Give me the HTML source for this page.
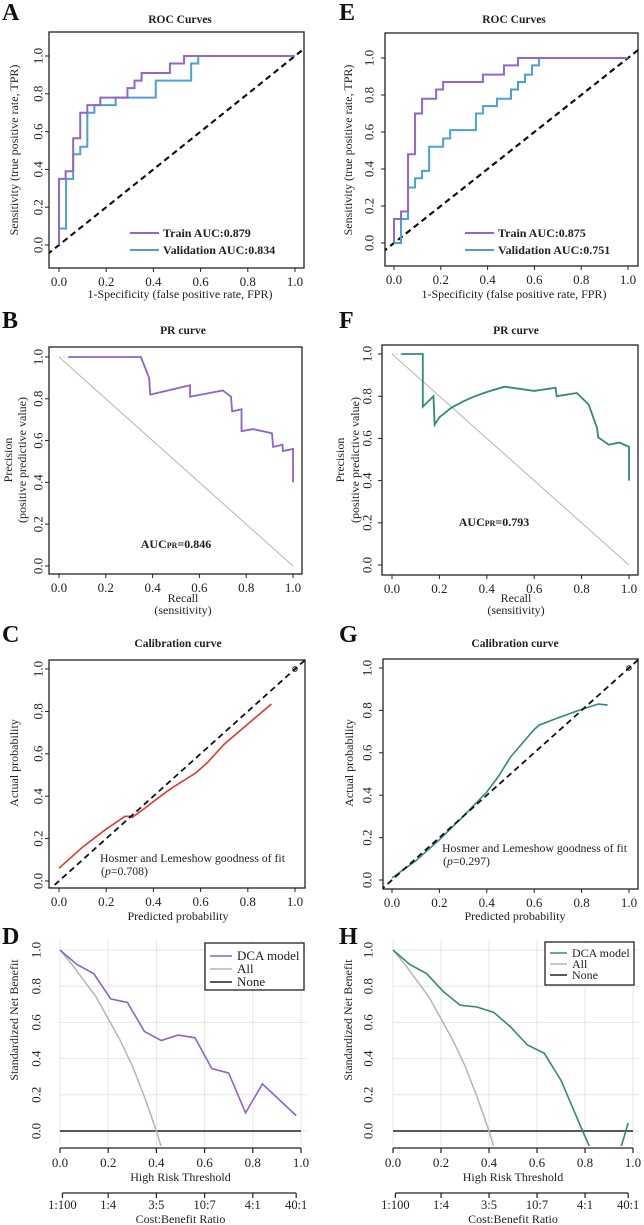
<!DOCTYPE html>
<html><head><meta charset="utf-8">
<style>
html,body{margin:0;padding:0;background:#fff;}
svg{display:block;font-family:"Liberation Serif",serif;}
</style></head>
<body>
<svg id="fig" width="644" height="1225" viewBox="0 0 644 1225" xmlns="http://www.w3.org/2000/svg"></svg>
<script>
// ---------- DATA ----------
const rocATrainFpr=[0,.028,.06,.09,.12,.175,.29,.32,.35,.47,.53,1];
const rocATrainTpr=[.35,.39,.565,.70,.74,.78,.83,.87,.91,.96,1,1];
const rocAValFpr=[0,.03,.06,.09,.12,.15,.24,.41,.56,.59,1];
const rocAValTpr=[.087,.35,.48,.52,.70,.74,.78,.87,.96,1,1];
const rocETrainFpr=[0,.03,.06,.09,.12,.18,.21,.38,.47,.53,1];
const rocETrainTpr=[.13,.17,.48,.70,.78,.83,.87,.91,.96,1,1];
const rocEValFpr=[0,.03,.06,.09,.12,.15,.21,.24,.35,.38,.44,.5,.53,.56,.59,.62,1];
const rocEValTpr=[0,.13,.30,.35,.39,.52,.565,.61,.70,.74,.78,.83,.87,.91,.96,1,1];
const prBRecall=[.04,.35,.385,.39,.56,.56,.70,.735,.74,.78,.78,.83,.91,.915,.955,.957,1,1];
const prBPrec=[1,1,.90,.82,.865,.81,.84,.81,.74,.75,.645,.655,.635,.57,.58,.55,.56,.40];
const prFRecall=[.04,.13,.13,.175,.18,.2,.25,.3,.35,.4,.475,.6,.69,.695,.78,.83,.865,.87,.915,.96,1,1];
const prFPrec=[1,1,.75,.80,.665,.70,.745,.775,.80,.82,.845,.825,.84,.80,.815,.76,.65,.605,.57,.58,.56,.40];
const calCPred=[0,.1,.2,.28,.3,.31,.36,.43,.48,.58,.63,.7,.9];
const calCAct=[.06,.16,.245,.305,.305,.30,.34,.40,.44,.51,.56,.645,.835];
const calGPred=[0,.1,.2,.3,.4,.45,.5,.6,.62,.7,.8,.87,.91];
const calGAct=[.01,.09,.19,.30,.415,.49,.58,.71,.73,.765,.805,.83,.825];
const dcaDThr=[0,.07,.14,.21,.28,.35,.42,.49,.56,.63,.70,.77,.84,.98];
const dcaDNb=[1,.92,.87,.73,.71,.55,.50,.53,.515,.345,.32,.10,.26,.085];
const dcaHThr=[0,.07,.14,.21,.28,.35,.42,.49,.56,.63,.70,.79,.82,null,.95,.98];
const dcaHNb=[1,.92,.87,.77,.695,.685,.655,.575,.475,.43,.28,0,-.09,null,-.09,.045];
const dcaAllThr=[0,.05,.1,.15,.2,.25,.3,.35,.4,.425];
const dcaAllNb=[1,.92,.83,.74,.62,.50,.36,.19,0,-.11];
const ticks=[0,0.2,0.4,0.6,0.8,1.0];
const tickLabels=["0.0","0.2","0.4","0.6","0.8","1.0"];
const costLabels=["1:100","1:4","3:5","10:7","4:1","40:1"];
const costPos=[0.01,0.2,0.4,0.6,0.8,0.98];

// ---------- HELPERS ----------
const NS="http://www.w3.org/2000/svg";
const svg=document.getElementById('fig');
const TFS=13;
function mk(tag,attrs,parent){const e=document.createElementNS(NS,tag);for(const k in attrs)e.setAttribute(k,attrs[k]);(parent||svg).appendChild(e);return e;}
function txt(s,attrs,parent){const e=mk('text',attrs,parent);e.textContent=s;return e;}
function sx(p,v){return p.x0+(p.x1-p.x0)*v;}
function sy(p,v){return p.y0-(p.y0-p.y1)*v;}
let clipId=0;
function clip(p,b){const id='c'+(clipId++);const cp=mk('clipPath',{id:id});mk('rect',{x:b[0],y:b[1],width:b[2]-b[0],height:b[3]-b[1]},cp);return 'url(#'+id+')';}

function boxAxes(p,name){
  const g=mk('g',{});
  
  
  const r=mk('rect',{x:p.box[0],y:p.box[1],width:p.box[2]-p.box[0],height:p.box[3]-p.box[1],fill:'none',stroke:'#222','stroke-width':1.3},g);
  
  
  ticks.forEach((t,i)=>{
    const x=sx(p,t);
    mk('line',{x1:x,x2:x,y1:p.box[3],y2:p.box[3]+4,stroke:'#222'},g);
    const xl=txt(tickLabels[i],{x:x,y:p.box[3]+18,'font-size':TFS,'text-anchor':'middle',fill:'#222'},g);
    
    
    const y=sy(p,t);
    mk('line',{x1:p.box[0],x2:p.box[0]-4,y1:y,y2:y,stroke:'#222'},g);
    const yl=txt(tickLabels[i],{x:p.ytx,y:y,'font-size':TFS,'text-anchor':'middle',dy:'.35em',transform:'rotate(-90 '+p.ytx+' '+y+')',fill:'#222'},g);
    
    
  });
}
function letter(s,x,y){const e=txt(s,{x:x,y:y,'font-size':24,'font-weight':'bold',fill:'#111'});}
function title(s,x,y){const e=txt(s,{x:x,y:y,'font-size':11.5,'font-weight':'bold','text-anchor':'middle',fill:'#222'});}
function ytitle(s,x,y,nm){const e=txt(s,{x:x,y:y,'font-size':12,'text-anchor':'middle',dy:'.35em',transform:'rotate(-90 '+x+' '+y+')',fill:'#222'});}
function xtitle(s,x,y,nm){const e=txt(s,{x:x,y:y,'font-size':12,'text-anchor':'middle',fill:'#222'});}
function stairPath(p,f,t){let d='M'+sx(p,0)+' '+sy(p,0);for(let i=0;i<f.length;i++){d+=' L'+sx(p,f[i])+' '+sy(p,i?t[i-1]:0)+' L'+sx(p,f[i])+' '+sy(p,t[i]);}return d;}
function polyPath(p,xs,ys){let d='',pen=false;for(let i=0;i<xs.length;i++){if(xs[i]===null){pen=false;continue;}d+=(pen?' L':' M')+sx(p,xs[i])+' '+sy(p,ys[i]);pen=true;}return d;}
function diag(p,cl,w){const e=mk('line',{x1:sx(p,-0.05),y1:sy(p,-0.05),x2:sx(p,1.05),y2:sy(p,1.05),stroke:'#111','stroke-width':w,'stroke-dasharray':'6,4','clip-path':cl});}

// ---------- ROC ----------
function roc(p,L,tf,tt,vf,vt,ta,va){
  letter(L,p.lx,20);
  title('ROC Curves',p.tx,23);
  boxAxes(p,'roc-'+L.toLowerCase());
  const cl=clip(p,p.box);
  diag(p,cl,2.2);
  const v=mk('path',{d:stairPath(p,vf,vt),fill:'none',stroke:'#4ba0d9','stroke-width':2,'clip-path':cl});
  
  const t=mk('path',{d:stairPath(p,tf,tt),fill:'none',stroke:'#9465cf','stroke-width':2,'clip-path':cl});
  
  const lg=mk('g',{});
  mk('line',{x1:p.lgx,x2:p.lgx+29,y1:233,y2:233,stroke:'#9465cf','stroke-width':2},lg);
  mk('line',{x1:p.lgx,x2:p.lgx+29,y1:250,y2:250,stroke:'#4ba0d9','stroke-width':2},lg);
  const a=txt('Train AUC:'+ta,{x:p.lgx+33,y:237,'font-size':12,'font-weight':'bold',fill:'#222'},lg);
  const b=txt('Validation AUC:'+va,{x:p.lgx+33,y:254,'font-size':12,'font-weight':'bold',fill:'#222'},lg);
  ytitle('Sensitivity (true positive rate, TPR)',p.ytt,150);
  xtitle('1-Specificity (false positive rate, FPR)',p.tx,298);
}
roc({box:[49,32,304,268],x0:59,x1:295,y0:245,y1:56,ytx:38,lx:2,tx:180,ytt:14,lgx:130},'A',rocATrainFpr,rocATrainTpr,rocAValFpr,rocAValTpr,'0.879','0.834');
roc({box:[385,33,638,266],x0:394,x1:628,y0:243,y1:58,ytx:369,lx:339,tx:514,ytt:348,lgx:465},'E',rocETrainFpr,rocETrainTpr,rocEValFpr,rocEValTpr,'0.875','0.751');

// ---------- PR ----------
function pr(p,L,rx,ry,col,auc){
  letter(L,p.lx,328);
  title('PR curve',p.tx,334);
  boxAxes(p,'pr-'+L.toLowerCase());
  const cl=clip(p,p.box);
  const g=mk('line',{x1:sx(p,0),y1:sy(p,1),x2:sx(p,1),y2:sy(p,0),stroke:'#bbb','stroke-width':1.1});
  const s=mk('line',{x1:sx(p,0),y1:sy(p,1),x2:sx(p,rx[0]),y2:sy(p,1),stroke:'#f2b8b0','stroke-width':1,'stroke-dasharray':'2,2'});
  const l=mk('path',{d:polyPath(p,rx,ry),fill:'none',stroke:col,'stroke-width':1.8,'clip-path':cl});
  const a=txt('',{x:p.ax,y:p.ay,'font-size':12,'font-weight':'bold','text-anchor':'middle',fill:'#222'});
  
  a.innerHTML='AUC<tspan font-size="8">PR</tspan>='+auc;
  ytitle('Precision',p.yt1,460,'y-axis-title-line1');
  ytitle('(positive predictive value)',p.yt2,460,'y-axis-title-line2');
  xtitle('Recall',p.tx,602,'x-axis-title-line1');
  xtitle('(sensitivity)',p.tx,614,'x-axis-title-line2');
}
pr({box:[49,347,302,574],x0:59,x1:293,y0:566,y1:357,ytx:38,lx:2,tx:183,ax:176,ay:548,yt1:8,yt2:22},'B',prBRecall,prBPrec,'#8e62d0','0.846');
pr({box:[382,345,638,575],x0:392,x1:629,y0:565,y1:354,ytx:367,lx:339,tx:516,ax:494,ay:526,yt1:340,yt2:355},'F',prFRecall,prFPrec,'#2e8b80','0.793');

// ---------- CALIBRATION ----------
function cal(p,L,px,py,col,pv){
  letter(L,p.lx,642);
  title('Calibration curve',p.tx,647);
  boxAxes(p,'cal-'+L.toLowerCase());
  const cl=clip(p,p.box);
  const l=mk('path',{d:polyPath(p,px,py),fill:'none',stroke:col,'stroke-width':1.6,'clip-path':cl});
  diag(p,cl,1.8);
  const c=mk('circle',{cx:sx(p,1),cy:sy(p,1),r:2.2,fill:'none',stroke:'#111','stroke-width':1});
  const h=txt('Hosmer and Lemeshow goodness of fit',{x:p.hx,y:p.hy,'font-size':11.8,fill:'#222',textLength:185,lengthAdjust:'spacingAndGlyphs'});
  const q=txt('',{x:p.hx+1,y:p.hy+13,'font-size':11.8,fill:'#222'});
  q.innerHTML='(<tspan font-style="italic">p</tspan>='+pv+')';
  ytitle('Actual probability',p.ytt,763);
  xtitle('Predicted probability',p.tx,920);
}
cal({box:[49,660,305,888],x0:59,x1:295,y0:881,y1:669,ytx:38,lx:2,tx:178,hx:100,hy:862,ytt:14},'C',calCPred,calCAct,'#e8382c','0.708');
cal({box:[383,659,638,889],x0:392,x1:629,y0:880,y1:668,ytx:367,lx:339,tx:515,hx:442,hy:852,ytt:349},'G',calGPred,calGAct,'#2e8b80','0.297');

// ---------- DCA ----------
function dca(p,L,tx,ty,col){
  letter(L,p.lx,944);
  const cl=clip(p,[p.x0-3,935,p.x1+6,1146]);
  const grid=mk('g',{stroke:'#e6e6e6','stroke-width':1});
  ticks.forEach((t,i)=>{
    mk('line',{x1:p.x0,x2:p.x1+6,y1:sy(p,t),y2:sy(p,t)},grid);
    mk('line',{x1:sx(p,t),x2:sx(p,t),y1:940,y2:1145},grid);
    const yl=txt(tickLabels[i],{x:p.ytx,y:sy(p,t),'font-size':TFS,'text-anchor':'middle',dy:'.35em',transform:'rotate(-90 '+p.ytx+' '+sy(p,t)+')',fill:'#222'});
    
  });
  const n=mk('line',{x1:p.x0,x2:p.x1,y1:sy(p,0),y2:sy(p,0),stroke:'#222','stroke-width':1.5});
  const a=mk('path',{d:polyPath(p,dcaAllThr,dcaAllNb),fill:'none',stroke:'#b5b5b5','stroke-width':1.5,'clip-path':cl});
  const m=mk('path',{d:polyPath(p,tx,ty),fill:'none',stroke:col,'stroke-width':1.6,'clip-path':cl});
  const ax=mk('g',{stroke:'#222','stroke-width':1.2});
  mk('line',{x1:p.x0,x2:p.x1,y1:1148,y2:1148},ax);
  ticks.forEach((t,i)=>{
    mk('line',{x1:sx(p,t),x2:sx(p,t),y1:1148,y2:1153},ax);
    const l=txt(tickLabels[i],{x:sx(p,t),y:1167,'font-size':TFS,'text-anchor':'middle',fill:'#222',stroke:'none'});
    
  });
  xtitle('High Risk Threshold',(p.x0+p.x1)/2,1181);
  const cx=mk('g',{stroke:'#222','stroke-width':1.2});
  mk('line',{x1:sx(p,costPos[0]),x2:sx(p,costPos[5]),y1:1193,y2:1193},cx);
  costPos.forEach((t,i)=>{
    mk('line',{x1:sx(p,t),x2:sx(p,t),y1:1193,y2:1198},cx);
    const l=txt(costLabels[i],{x:sx(p,t),y:1209,'font-size':12.5,'text-anchor':'middle',fill:'#222',stroke:'none'});
    
  });
  xtitle('Cost:Benefit Ratio',(p.x0+p.x1)/2,1223,'cost-axis-title');
  ytitle('Standardized Net Benefit',p.ytt,1020);
  const lg=mk('g',{});
  mk('rect',{x:p.lb[0],y:p.lb[1],width:p.lb[2]-p.lb[0],height:p.lb[3]-p.lb[1],fill:'#fff',stroke:'#222','stroke-width':1.3},lg);
  const names=['DCA model','All','None'],cols=[col,'#b5b5b5','#222'];
  names.forEach((s,i)=>{
    const y=p.ly[i];
    mk('line',{x1:p.llx,x2:p.llx+p.llw,y1:y,y2:y,stroke:cols[i],'stroke-width':1.6},lg);
    const t=txt(s,{x:p.llx+p.llw+5,y:y+4,'font-size':p.lfs,fill:'#222'},lg);
    
  });
}
dca({x0:60,x1:301,y0:1131,y1:950,ytx:36,ytt:14,lx:2,lb:[205,943,304,990],ly:[956,969,982],llx:210,llw:22,lfs:13},'D',dcaDThr,dcaDNb,'#8e62d0');
dca({x0:393,x1:633,y0:1131,y1:950,ytx:368,ytt:348,lx:339,lb:[545,942,634,985],ly:[953,964,975],llx:550,llw:17,lfs:12},'H',dcaHThr,dcaHNb,'#2e8b80');
</script>
</body></html>
